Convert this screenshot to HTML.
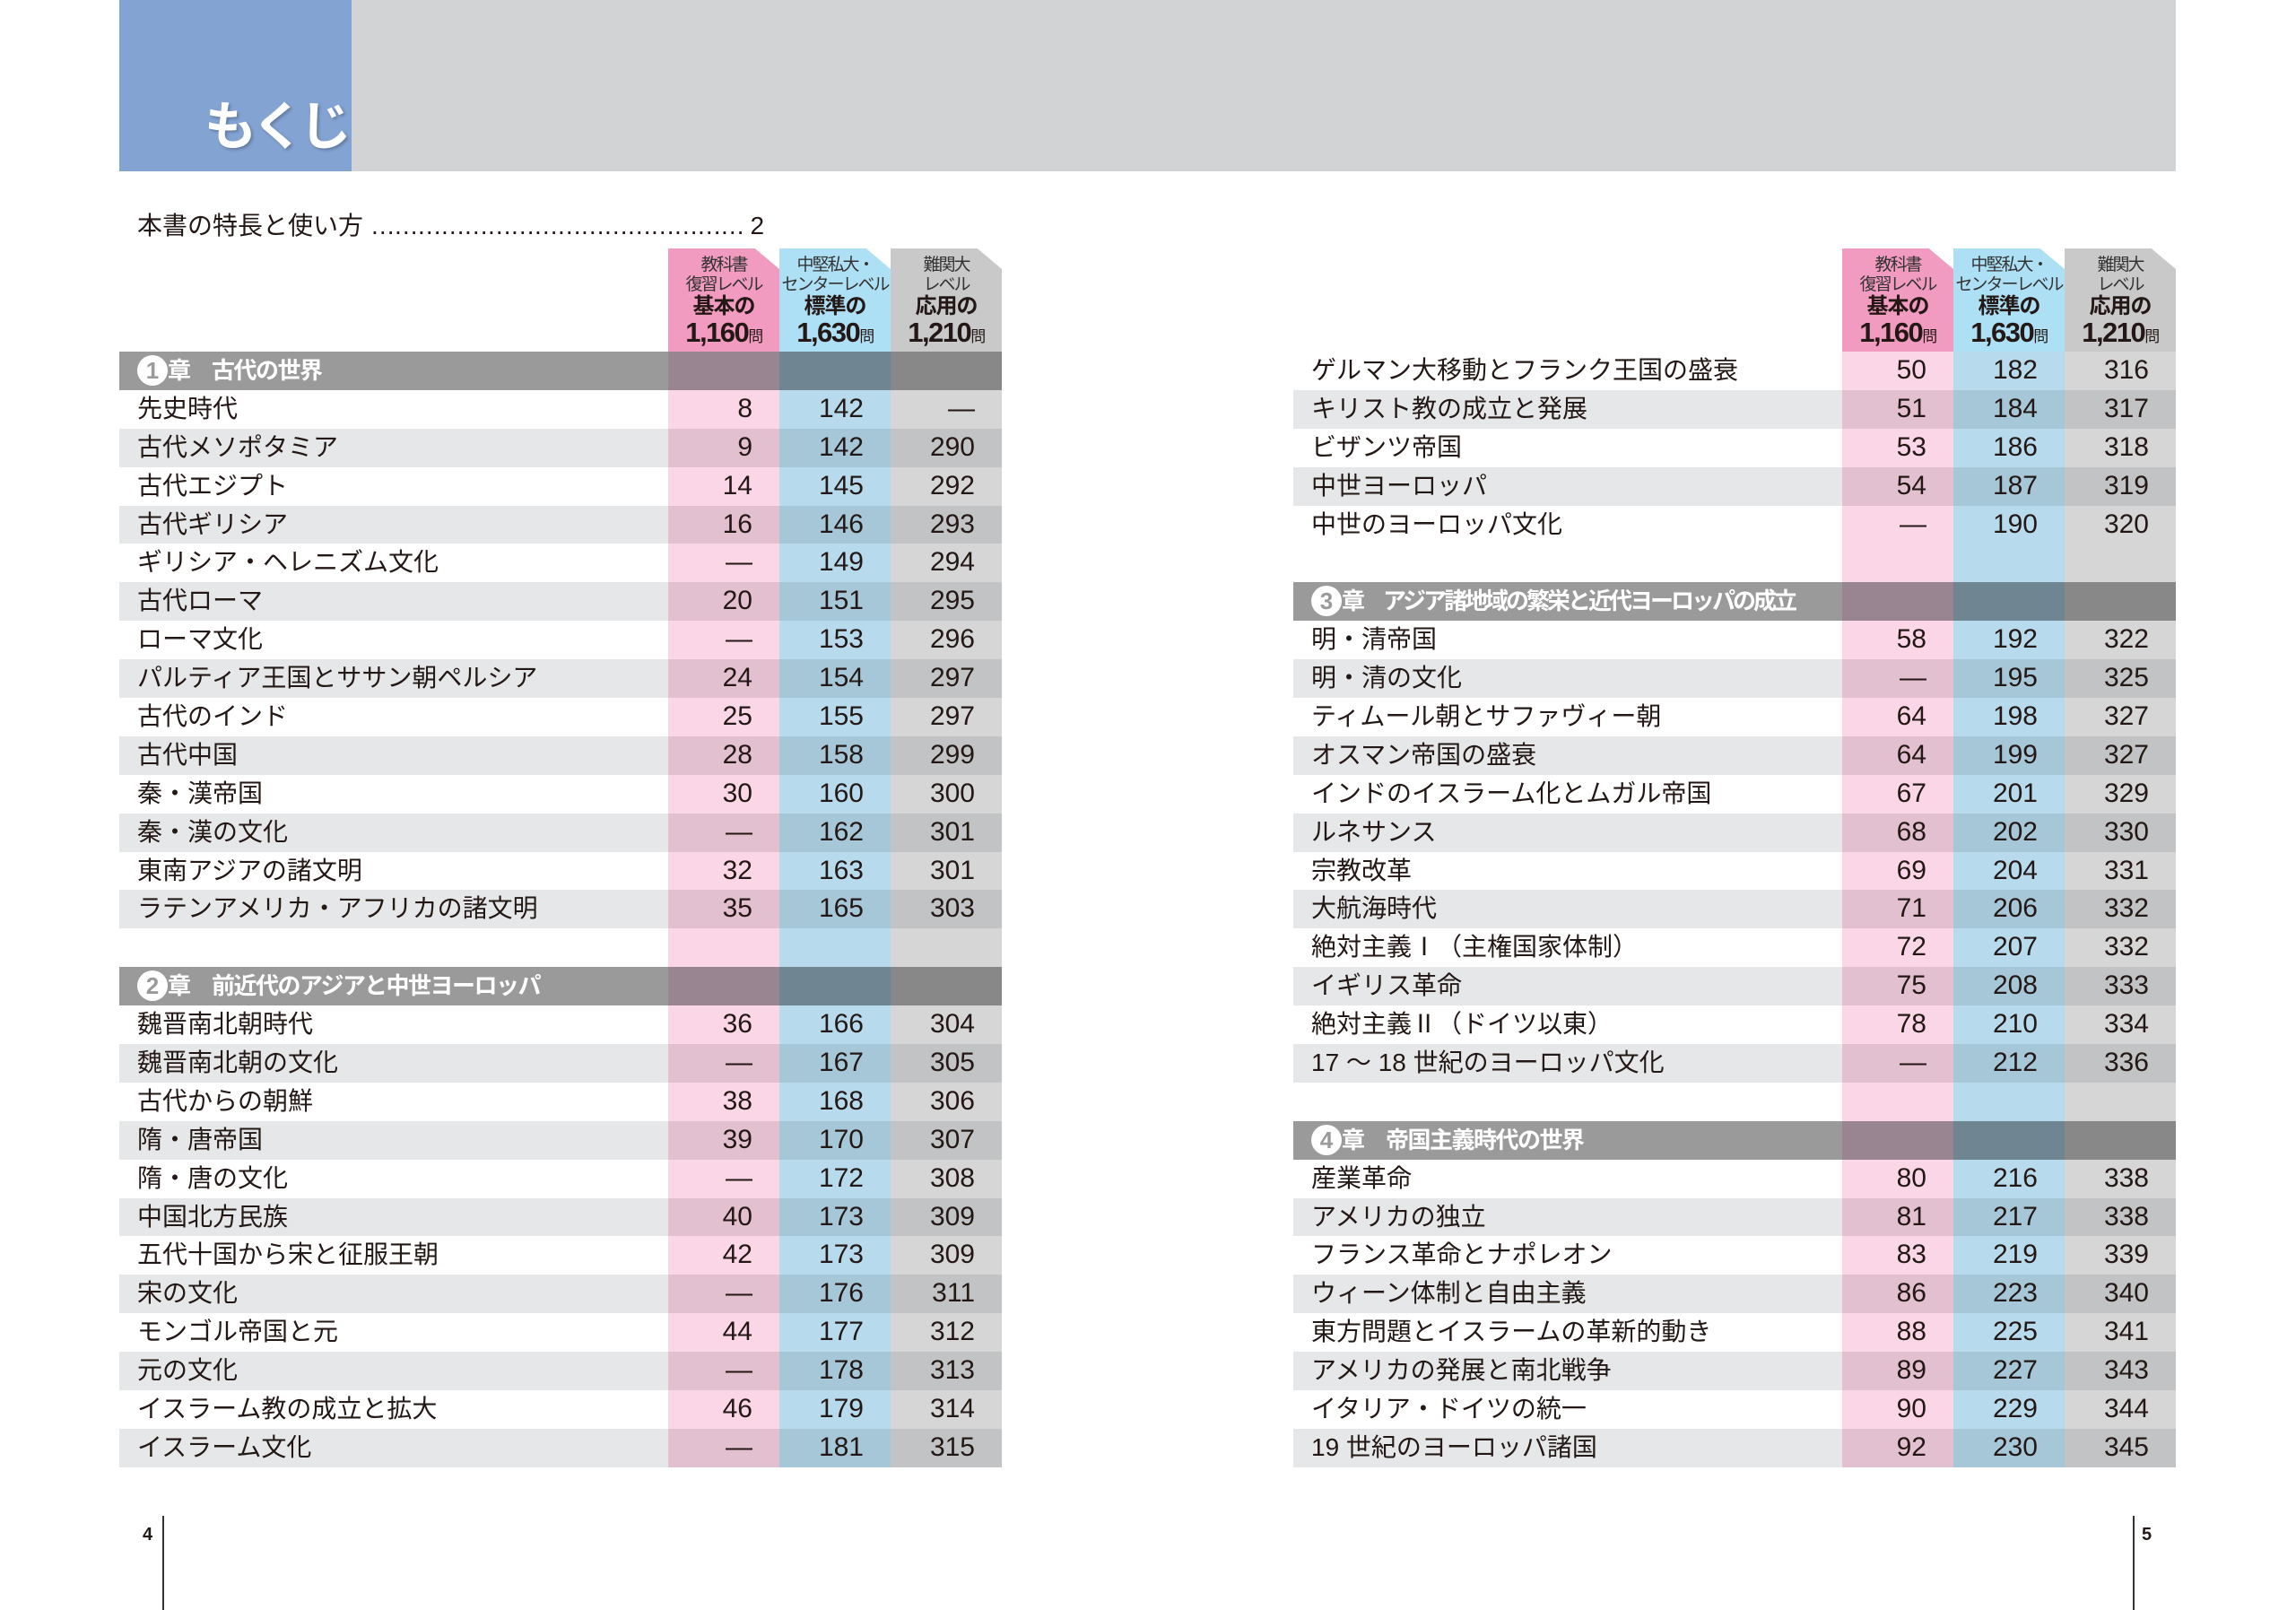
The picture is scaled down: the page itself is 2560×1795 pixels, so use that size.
<!DOCTYPE html>
<html><head><meta charset="utf-8">
<style>
*{margin:0;padding:0;box-sizing:border-box}
body{width:2560px;height:1795px;background:#fff;position:relative;overflow:hidden;font-family:"Liberation Sans","Noto Sans CJK JP",sans-serif;color:#231815}
.topbar{position:absolute;left:133px;top:0;width:2293px;height:191px;background:#d2d3d5}
.blue{position:absolute;left:133px;top:0;width:259px;height:191px;background:#83a3d3}
.moku{position:absolute;left:228px;top:94px;font-size:58px;font-weight:bold;color:#fff;letter-spacing:-5px;text-shadow:2px 2px 3px rgba(0,0,0,.25);font-family:"Noto Sans CJK JP",sans-serif}
.intro{position:absolute;left:153px;top:230px;font-size:28px}
.tbl{position:absolute;top:392px}
.r{display:flex;height:42.9px;line-height:42.9px;font-size:28px;overflow:hidden}
.t{flex:none;width:612px;padding-left:20px;white-space:nowrap;overflow:hidden}
.c{flex:none;width:124px;text-align:right;padding-right:30px;font-size:30px}
.w .p,.e .p{background:#fbd6e6}.w .b,.e .b{background:#b7dbec}.w .g,.e .g{background:#d6d6d7}
.s{background:#e6e7e8}.s .p{background:#e2c0cf}.s .b{background:#a6c7d8}.s .g{background:#c2c3c4}
.h{background:#9a9a9b;color:#fff;font-weight:bold;font-size:26px}
.h .t{letter-spacing:-1.5px}
.h .p{background:#988591}.h .b{background:#6f8591}.h .g{background:#888889}
.num{display:inline-block;width:34px;height:34px;border-radius:50%;background:#fff;color:#9a9a9b;text-align:center;line-height:34px;font-size:26px;vertical-align:middle;margin-top:-4px;letter-spacing:0}
.hd{position:absolute;top:277px;height:115px;display:flex}
.hc{flex:none;width:124px;height:115px;text-align:center;font-size:19px;line-height:22px;padding-top:8px;clip-path:polygon(0 0,78% 0,100% 20%,100% 100%,0 100%);color:#333;white-space:nowrap;letter-spacing:-2px;overflow:hidden}
.hc b{display:block;font-size:24px;line-height:26px;color:#231815;letter-spacing:-1px}
.hc b.n{font-size:31px;line-height:32px;letter-spacing:-1.5px}
.hc b.n small{font-size:17px;font-weight:normal}
.pg{position:absolute;font-size:20px;font-weight:bold;top:1700px}
.ln{position:absolute;width:2px;background:#333;top:1690px;height:105px}
</style></head><body>
<div class="topbar"></div><div class="blue"></div>
<div class="moku">もくじ</div>
<div class="intro">本書の特長と使い方 <span style="letter-spacing:-2px">…………………………………………</span> 2</div>

<div class="hd" style="left:745px">
<div class="hc" style="background:#f29bc1">教科書<br>復習レベル<b>基本の</b><b class="n">1,160<small>問</small></b></div>
<div class="hc" style="background:#aee0f5">中堅私大・<br>センターレベル<b>標準の</b><b class="n">1,630<small>問</small></b></div>
<div class="hc" style="background:#c9c9ca">難関大<br>レベル<b>応用の</b><b class="n">1,210<small>問</small></b></div>
</div>
<div class="hd" style="left:2054px">
<div class="hc" style="background:#f29bc1">教科書<br>復習レベル<b>基本の</b><b class="n">1,160<small>問</small></b></div>
<div class="hc" style="background:#aee0f5">中堅私大・<br>センターレベル<b>標準の</b><b class="n">1,630<small>問</small></b></div>
<div class="hc" style="background:#c9c9ca">難関大<br>レベル<b>応用の</b><b class="n">1,210<small>問</small></b></div>
</div>

<div class="tbl" style="left:133px">
<div class="r h"><div class="t"><span class="num">1</span>章　古代の世界</div><div class="c p"></div><div class="c b"></div><div class="c g"></div></div>
<div class="r w"><div class="t">先史時代</div><div class="c p">8</div><div class="c b">142</div><div class="c g">—</div></div>
<div class="r s"><div class="t">古代メソポタミア</div><div class="c p">9</div><div class="c b">142</div><div class="c g">290</div></div>
<div class="r w"><div class="t">古代エジプト</div><div class="c p">14</div><div class="c b">145</div><div class="c g">292</div></div>
<div class="r s"><div class="t">古代ギリシア</div><div class="c p">16</div><div class="c b">146</div><div class="c g">293</div></div>
<div class="r w"><div class="t">ギリシア・ヘレニズム文化</div><div class="c p">—</div><div class="c b">149</div><div class="c g">294</div></div>
<div class="r s"><div class="t">古代ローマ</div><div class="c p">20</div><div class="c b">151</div><div class="c g">295</div></div>
<div class="r w"><div class="t">ローマ文化</div><div class="c p">—</div><div class="c b">153</div><div class="c g">296</div></div>
<div class="r s"><div class="t">パルティア王国とササン朝ペルシア</div><div class="c p">24</div><div class="c b">154</div><div class="c g">297</div></div>
<div class="r w"><div class="t">古代のインド</div><div class="c p">25</div><div class="c b">155</div><div class="c g">297</div></div>
<div class="r s"><div class="t">古代中国</div><div class="c p">28</div><div class="c b">158</div><div class="c g">299</div></div>
<div class="r w"><div class="t">秦・漢帝国</div><div class="c p">30</div><div class="c b">160</div><div class="c g">300</div></div>
<div class="r s"><div class="t">秦・漢の文化</div><div class="c p">—</div><div class="c b">162</div><div class="c g">301</div></div>
<div class="r w"><div class="t">東南アジアの諸文明</div><div class="c p">32</div><div class="c b">163</div><div class="c g">301</div></div>
<div class="r s"><div class="t">ラテンアメリカ・アフリカの諸文明</div><div class="c p">35</div><div class="c b">165</div><div class="c g">303</div></div>
<div class="r e"><div class="t"></div><div class="c p"></div><div class="c b"></div><div class="c g"></div></div>
<div class="r h"><div class="t"><span class="num">2</span>章　前近代のアジアと中世ヨーロッパ</div><div class="c p"></div><div class="c b"></div><div class="c g"></div></div>
<div class="r w"><div class="t">魏晋南北朝時代</div><div class="c p">36</div><div class="c b">166</div><div class="c g">304</div></div>
<div class="r s"><div class="t">魏晋南北朝の文化</div><div class="c p">—</div><div class="c b">167</div><div class="c g">305</div></div>
<div class="r w"><div class="t">古代からの朝鮮</div><div class="c p">38</div><div class="c b">168</div><div class="c g">306</div></div>
<div class="r s"><div class="t">隋・唐帝国</div><div class="c p">39</div><div class="c b">170</div><div class="c g">307</div></div>
<div class="r w"><div class="t">隋・唐の文化</div><div class="c p">—</div><div class="c b">172</div><div class="c g">308</div></div>
<div class="r s"><div class="t">中国北方民族</div><div class="c p">40</div><div class="c b">173</div><div class="c g">309</div></div>
<div class="r w"><div class="t">五代十国から宋と征服王朝</div><div class="c p">42</div><div class="c b">173</div><div class="c g">309</div></div>
<div class="r s"><div class="t">宋の文化</div><div class="c p">—</div><div class="c b">176</div><div class="c g">311</div></div>
<div class="r w"><div class="t">モンゴル帝国と元</div><div class="c p">44</div><div class="c b">177</div><div class="c g">312</div></div>
<div class="r s"><div class="t">元の文化</div><div class="c p">—</div><div class="c b">178</div><div class="c g">313</div></div>
<div class="r w"><div class="t">イスラーム教の成立と拡大</div><div class="c p">46</div><div class="c b">179</div><div class="c g">314</div></div>
<div class="r s"><div class="t">イスラーム文化</div><div class="c p">—</div><div class="c b">181</div><div class="c g">315</div></div>
</div>

<div class="tbl" style="left:1442px">
<div class="r w"><div class="t">ゲルマン大移動とフランク王国の盛衰</div><div class="c p">50</div><div class="c b">182</div><div class="c g">316</div></div>
<div class="r s"><div class="t">キリスト教の成立と発展</div><div class="c p">51</div><div class="c b">184</div><div class="c g">317</div></div>
<div class="r w"><div class="t">ビザンツ帝国</div><div class="c p">53</div><div class="c b">186</div><div class="c g">318</div></div>
<div class="r s"><div class="t">中世ヨーロッパ</div><div class="c p">54</div><div class="c b">187</div><div class="c g">319</div></div>
<div class="r w"><div class="t">中世のヨーロッパ文化</div><div class="c p">—</div><div class="c b">190</div><div class="c g">320</div></div>
<div class="r e"><div class="t"></div><div class="c p"></div><div class="c b"></div><div class="c g"></div></div>
<div class="r h"><div class="t" style="letter-spacing:-3px"><span class="num">3</span>章　アジア諸地域の繁栄と近代ヨーロッパの成立</div><div class="c p"></div><div class="c b"></div><div class="c g"></div></div>
<div class="r w"><div class="t">明・清帝国</div><div class="c p">58</div><div class="c b">192</div><div class="c g">322</div></div>
<div class="r s"><div class="t">明・清の文化</div><div class="c p">—</div><div class="c b">195</div><div class="c g">325</div></div>
<div class="r w"><div class="t">ティムール朝とサファヴィー朝</div><div class="c p">64</div><div class="c b">198</div><div class="c g">327</div></div>
<div class="r s"><div class="t">オスマン帝国の盛衰</div><div class="c p">64</div><div class="c b">199</div><div class="c g">327</div></div>
<div class="r w"><div class="t">インドのイスラーム化とムガル帝国</div><div class="c p">67</div><div class="c b">201</div><div class="c g">329</div></div>
<div class="r s"><div class="t">ルネサンス</div><div class="c p">68</div><div class="c b">202</div><div class="c g">330</div></div>
<div class="r w"><div class="t">宗教改革</div><div class="c p">69</div><div class="c b">204</div><div class="c g">331</div></div>
<div class="r s"><div class="t">大航海時代</div><div class="c p">71</div><div class="c b">206</div><div class="c g">332</div></div>
<div class="r w"><div class="t">絶対主義Ⅰ（主権国家体制）</div><div class="c p">72</div><div class="c b">207</div><div class="c g">332</div></div>
<div class="r s"><div class="t">イギリス革命</div><div class="c p">75</div><div class="c b">208</div><div class="c g">333</div></div>
<div class="r w"><div class="t">絶対主義Ⅱ（ドイツ以東）</div><div class="c p">78</div><div class="c b">210</div><div class="c g">334</div></div>
<div class="r s"><div class="t">17 ～ 18 世紀のヨーロッパ文化</div><div class="c p">—</div><div class="c b">212</div><div class="c g">336</div></div>
<div class="r e"><div class="t"></div><div class="c p"></div><div class="c b"></div><div class="c g"></div></div>
<div class="r h"><div class="t"><span class="num">4</span>章　帝国主義時代の世界</div><div class="c p"></div><div class="c b"></div><div class="c g"></div></div>
<div class="r w"><div class="t">産業革命</div><div class="c p">80</div><div class="c b">216</div><div class="c g">338</div></div>
<div class="r s"><div class="t">アメリカの独立</div><div class="c p">81</div><div class="c b">217</div><div class="c g">338</div></div>
<div class="r w"><div class="t">フランス革命とナポレオン</div><div class="c p">83</div><div class="c b">219</div><div class="c g">339</div></div>
<div class="r s"><div class="t">ウィーン体制と自由主義</div><div class="c p">86</div><div class="c b">223</div><div class="c g">340</div></div>
<div class="r w"><div class="t">東方問題とイスラームの革新的動き</div><div class="c p">88</div><div class="c b">225</div><div class="c g">341</div></div>
<div class="r s"><div class="t">アメリカの発展と南北戦争</div><div class="c p">89</div><div class="c b">227</div><div class="c g">343</div></div>
<div class="r w"><div class="t">イタリア・ドイツの統一</div><div class="c p">90</div><div class="c b">229</div><div class="c g">344</div></div>
<div class="r s"><div class="t">19 世紀のヨーロッパ諸国</div><div class="c p">92</div><div class="c b">230</div><div class="c g">345</div></div>
</div>

<div class="pg" style="left:159px">4</div><div class="ln" style="left:181px"></div>
<div class="pg" style="left:2388px">5</div><div class="ln" style="left:2378px"></div>
</body></html>
